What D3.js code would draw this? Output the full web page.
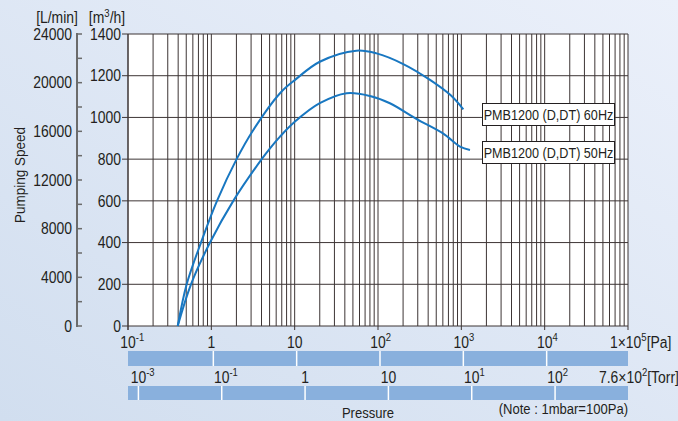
<!DOCTYPE html>
<html>
<head>
<meta charset="utf-8">
<script src="https://cdn.jsdelivr.net/npm/d3@7"></script>
<style>
  html, body { margin: 0; padding: 0; }
  body { width: 678px; height: 421px; overflow: hidden; }
  text { font-family: "Liberation Sans", Arial, sans-serif; fill: #231f20; }
</style>
</head>
<body>
<svg id="chart" width="678" height="421"></svg>
<script>
// pumping speed curves, pressure in Pa, speed in m3/h
const pa60 = [0.395, 0.506, 0.751, 1.17, 2.01, 3.19, 6.67, 10.1, 20, 55, 96, 201, 421, 741, 1057];
const sp60 = [0, 200, 400, 600, 800, 940, 1116, 1180, 1267, 1320, 1307, 1256, 1180, 1107, 1039];
const pa50 = [0.395, 0.57, 0.964, 1.835, 4.02, 5.06, 6.67, 10.1, 20, 42, 80, 139, 291, 608, 964, 1270];
const sp50 = [0, 200, 400, 600, 800, 852, 908, 980, 1068, 1116, 1103, 1068, 992, 922, 860, 844];

const m3hTicks = [0, 200, 400, 600, 800, 1000, 1200, 1400];
const lminTicks = [0, 4000, 8000, 12000, 16000, 20000, 24000];
const paLabels = [['10', '-1'], ['1', ''], ['10', ''], ['10', '2'], ['10', '3'], ['10', '4']];
const paValues = [0.1, 1, 10, 100, 1000, 10000];
const torrLabels = [['10', '-3'], ['10', '-1'], ['1', ''], ['10', ''], ['10', '1'], ['10', '2']];
const torrValues = [0.001, 0.01, 0.1, 1, 10, 100];
const PA_PER_TORR = 133.3;
const seriesNames = ['PMB1200 (D,DT) 60Hz', 'PMB1200 (D,DT) 50Hz'];

const NARROW = 0.87;   // the original uses a condensed face
const svg = d3.select('#chart');

// text squeezed horizontally around its anchor point
function label(parent, x0, y0, size, anchor) {
  return parent.append('g')
      .attr('transform', `translate(${x0},${y0}) scale(${NARROW},1)`)
      .append('text')
      .attr('font-size', size)
      .attr('text-anchor', anchor || 'start');
}

// background
const defs = svg.append('defs');
const grad = defs.append('linearGradient').attr('id', 'bg')
    .attr('x1', '100%').attr('y1', '0%').attr('x2', '0%').attr('y2', '100%');
grad.append('stop').attr('offset', '0%').attr('stop-color', '#ebf0fa');
grad.append('stop').attr('offset', '100%').attr('stop-color', '#d1deef');
svg.append('rect').attr('width', 678).attr('height', 421).attr('fill', 'url(#bg)');

const x = d3.scaleLog().domain([0.1, 1e5]).range([128, 628]);
const y = d3.scaleLinear().domain([0, 1400]).range([326, 34]);
const yL = d3.scaleLinear().domain([0, 24000]).range([326, 34]);

// plot area
svg.append('rect').attr('x', 128).attr('y', 34).attr('width', 500).attr('height', 292).attr('fill', '#fff');

// vertical grid: 1..9 of every decade
const vLines = [];
for (let e = -1; e < 5; e++) for (let m = 1; m < 10; m++) vLines.push(m * Math.pow(10, e));
vLines.push(1e5);
svg.append('g').selectAll('line').data(vLines).enter().append('line')
    .attr('x1', d => x(d)).attr('x2', d => x(d))
    .attr('y1', 34).attr('y2', 326)
    .attr('stroke', '#3d3535').attr('stroke-width', 1);

svg.append('g').selectAll('line').data(m3hTicks).enter().append('line')
    .attr('x1', 122).attr('x2', 628)
    .attr('y1', d => y(d)).attr('y2', d => y(d))
    .attr('stroke', '#3d3535').attr('stroke-width', 1);

// decade ticks below axis
svg.append('g').selectAll('line').data(paValues.concat([1e5])).enter().append('line')
    .attr('x1', d => x(d)).attr('x2', d => x(d))
    .attr('y1', 326).attr('y2', 330)
    .attr('stroke', '#3d3535');

// right (m3/h) axis
svg.append('line').attr('x1', 128).attr('x2', 128).attr('y1', 34).attr('y2', 330).attr('stroke', '#3d3535');
m3hTicks.forEach(d => label(svg, 121, y(d), 16, 'end').attr('dy', '0.36em').text(d));

// left (L/min) axis
svg.append('line').attr('x1', 77).attr('x2', 77).attr('y1', 33).attr('y2', 327)
    .attr('stroke', '#6b6b6b').attr('stroke-width', 2);
svg.append('g').selectAll('line').data(d3.range(0, 24001, 2000)).enter().append('line')
    .attr('x1', 77).attr('x2', 82)
    .attr('y1', d => yL(d)).attr('y2', d => yL(d))
    .attr('stroke', '#6b6b6b').attr('stroke-width', 1.5);
lminTicks.forEach(d => label(svg, 72, yL(d), 16, 'end').attr('dy', '0.36em').text(d));

label(svg, 57, 23, 16, 'middle').text('[L/min]');
const m3 = label(svg, 107, 23, 16, 'middle');
m3.append('tspan').text('[m');
m3.append('tspan').attr('font-size', 11).attr('dy', -6).text('3');
m3.append('tspan').attr('dy', 6).text('/h]');

svg.append('g').attr('transform', 'translate(25,175) rotate(-90) scale(0.9,1)')
    .append('text').attr('text-anchor', 'middle').attr('font-size', 15).text('Pumping Speed');

// curves
const line = d3.line().x(d => x(d[0])).y(d => y(d[1])).curve(d3.curveCatmullRom.alpha(0.5));
[[pa60, sp60], [pa50, sp50]].forEach(([p, s]) => {
  svg.append('path').datum(p.map((v, i) => [v, s[i]]))
      .attr('d', line).attr('fill', 'none')
      .attr('stroke', '#1877c1').attr('stroke-width', 2);
});

// legend boxes
const legY = [103, 141];
seriesNames.forEach((n, i) => {
  svg.append('rect').attr('x', 482.5).attr('y', legY[i] + 0.5).attr('width', 132).attr('height', 22)
      .attr('fill', '#fff').attr('stroke', '#231f20').attr('stroke-width', 1);
  label(svg, 548.5, legY[i] + 12, 14.5, 'middle').attr('dy', '0.36em').text(n);
});

// pressure scale labels with a superscript exponent, base centred on the tick
function superLabel(xc, yb, parts, size) {
  const t = label(svg, xc, yb, size);
  t.append('tspan').text(parts[0]);
  if (parts[1]) t.append('tspan').attr('font-size', size * 0.68).attr('dy', -size * 0.42).text(parts[1]);
  const w = t.node().getSubStringLength(0, parts[0].length);
  t.attr('x', -w / 2);
  return t;
}

const bars = svg.append('g');
bars.append('rect').attr('x', 128).attr('y', 351).attr('width', 500).attr('height', 15).attr('fill', '#89b0dd');
bars.selectAll('.pasep').data(paValues.slice(1)).enter().append('line')
    .attr('x1', d => x(d) + 2).attr('x2', d => x(d) + 2).attr('y1', 351).attr('y2', 366)
    .attr('stroke', '#fff').attr('stroke-width', 1.5);
bars.append('rect').attr('x', 128).attr('y', 386).attr('width', 500).attr('height', 14).attr('fill', '#89b0dd');
bars.selectAll('.torrsep').data(torrValues).enter().append('line')
    .attr('x1', d => x(d * PA_PER_TORR)).attr('x2', d => x(d * PA_PER_TORR)).attr('y1', 386).attr('y2', 400)
    .attr('stroke', '#fff').attr('stroke-width', 1.5);

paLabels.forEach((p, i) => superLabel(x(paValues[i]), 348, p, 16));
torrLabels.forEach((p, i) => superLabel(x(torrValues[i] * PA_PER_TORR), 383, p, 16));

const paEnd = label(svg, 610, 348, 16);
paEnd.append('tspan').text('1\u00d710');
paEnd.append('tspan').attr('font-size', 11).attr('dy', -6.7).text('5');
paEnd.append('tspan').attr('dy', 6.7).text('[Pa]');
const torrEnd = label(svg, 599, 383, 16);
torrEnd.append('tspan').text('7.6\u00d710');
torrEnd.append('tspan').attr('font-size', 11).attr('dy', -6.7).text('2');
torrEnd.append('tspan').attr('dy', 6.7).text('[Torr]');

label(svg, 368, 418, 15, 'middle').text('Pressure');
label(svg, 628, 414, 15, 'end').text('(Note : 1mbar=100Pa)');
</script>
</body>
</html>
